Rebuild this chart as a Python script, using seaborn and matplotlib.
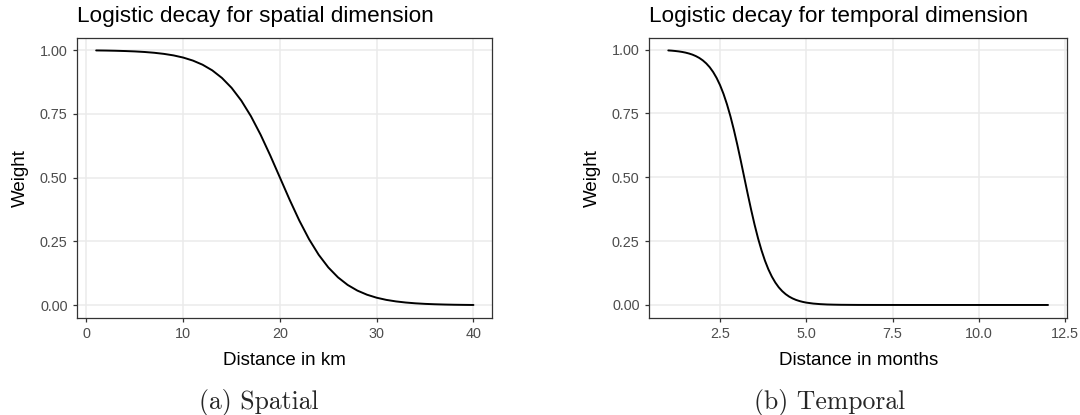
import numpy as np
import pandas as pd
import matplotlib
matplotlib.use("Agg")
import matplotlib.pyplot as plt
import seaborn as sns

# ---- data ----
spatial_km = [1, 2, 3, 4, 5, 6, 7, 8, 9, 10, 11, 12, 13, 14, 15, 16, 17, 18, 19, 20,
              21, 22, 23, 24, 25, 26, 27, 28, 29, 30, 31, 32, 33, 34, 35, 36, 37, 38, 39, 40]
spatial_weight = [0.9987, 0.9982, 0.9974, 0.9963, 0.9948, 0.9926, 0.9895, 0.9852, 0.9792, 0.9707,
                  0.9589, 0.9427, 0.9206, 0.8909, 0.8520, 0.8022, 0.7408, 0.6682, 0.5866, 0.5000,
                  0.4134, 0.3318, 0.2592, 0.1978, 0.1480, 0.1091, 0.0794, 0.0573, 0.0411, 0.0293,
                  0.0208, 0.0148, 0.0105, 0.0074, 0.0052, 0.0037, 0.0026, 0.0018, 0.0013, 0.0009]

temporal_months = [1.0, 1.1, 1.2, 1.3, 1.4, 1.5, 1.6, 1.7, 1.8, 1.9,
                   2.0, 2.1, 2.2, 2.3, 2.4, 2.5, 2.6, 2.7, 2.8, 2.9,
                   3.0, 3.1, 3.2, 3.3, 3.4, 3.5, 3.6, 3.7, 3.8, 3.9,
                   4.0, 4.1, 4.2, 4.3, 4.4, 4.5, 4.6, 4.7, 4.8, 4.9,
                   5.0, 5.2, 5.4, 5.6, 5.8, 6.0, 6.5, 7.0, 8.0, 9.0, 10.0, 11.0, 12.0]
temporal_weight = [0.9967, 0.9958, 0.9945, 0.9929, 0.9908, 0.9881, 0.9846, 0.9802, 0.9744, 0.9671,
                   0.9577, 0.9458, 0.9309, 0.9121, 0.8889, 0.8606, 0.8264, 0.7858, 0.7389, 0.6857,
                   0.6271, 0.5647, 0.5000, 0.4353, 0.3729, 0.3143, 0.2611, 0.2142, 0.1736, 0.1394,
                   0.1111, 0.0879, 0.0691, 0.0542, 0.0423, 0.0329, 0.0256, 0.0198, 0.0154, 0.0119,
                   0.0092, 0.0055, 0.0033, 0.0019, 0.0012, 0.0007, 0.0002, 0.0001, 0.0000, 0.0000,
                   0.0000, 0.0000, 0.0000]

spatial_xticks = [0, 10, 20, 30, 40]
temporal_xticks = [2.5, 5.0, 7.5, 10.0, 12.5]
temporal_xticklabels = ["2.5", "5.0", "7.5", "10.0", "12.5"]
yticks = [0.0, 0.25, 0.5, 0.75, 1.0]
yticklabels = ["0.00", "0.25", "0.50", "0.75", "1.00"]

titles = ["Logistic decay for spatial dimension", "Logistic decay for temporal dimension"]
xlabels = ["Distance in km", "Distance in months"]
ylabel = "Weight"
captions = ["(a) Spatial", "(b) Temporal"]

# ---- style ----
sns.set_theme(style="white")
plt.rcParams["font.family"] = ["Liberation Sans", "DejaVu Sans"]

GRID = "#EBEBEB"
BORDER = "#333333"
TICKTXT = "#4D4D4D"

fig = plt.figure(figsize=(10.8, 4.15), dpi=100)
W, H = 1080, 415


def axes_px(x0, y0, x1, y1):
    return fig.add_axes([x0 / W, 1 - y1 / H, (x1 - x0) / W, (y1 - y0) / H])


ax1 = axes_px(77.3, 37.7, 492.3, 317.7)
ax2 = axes_px(649.3, 37.7, 1067.0, 317.7)

df1 = pd.DataFrame({"x": spatial_km, "y": spatial_weight})
df2 = pd.DataFrame({"x": temporal_months, "y": temporal_weight})


def expand(vals, mult=0.05):
    lo, hi = min(vals), max(vals)
    r = hi - lo
    return lo - mult * r, hi + mult * r


for ax, df, xt, xtl, title, xl in [
    (ax1, df1, spatial_xticks, [str(v) for v in spatial_xticks], titles[0], xlabels[0]),
    (ax2, df2, temporal_xticks, temporal_xticklabels, titles[1], xlabels[1]),
]:
    sns.lineplot(data=df, x="x", y="y", ax=ax, color="black", linewidth=1.4)
    ax.set_xlim(*expand(df["x"]))
    ax.set_ylim(*expand(df["y"]))
    ax.set_xticks(xt)
    ax.set_xticklabels(xtl)
    ax.set_yticks(yticks)
    ax.set_yticklabels(yticklabels)
    ax.grid(True, color=GRID, linewidth=1.1)
    ax.set_axisbelow(True)
    for s in ax.spines.values():
        s.set_visible(True)
        s.set_color(BORDER)
        s.set_linewidth(0.9)
    ax.tick_params(axis="both", which="major", direction="out", length=3.0, width=0.9,
                   color=BORDER, labelcolor=TICKTXT, labelsize=10.4, pad=4.0,
                   bottom=True, left=True)
    ax.set_title(title, loc="left", fontsize=16.2, color="black", pad=11.0)
    ax.set_xlabel(xl, fontsize=13.5, color="black", labelpad=7.5)
    ax.set_ylabel(ylabel, fontsize=13.5, color="black", labelpad=8.0)

fig.text(258.7 / W, 1 - 408.5 / H, captions[0], ha="center", va="baseline",
         fontsize=18.5, family=["cmr10", "DejaVu Serif"])
fig.text(829.8 / W, 1 - 408.5 / H, captions[1], ha="center", va="baseline",
         fontsize=18.5, family=["cmr10", "DejaVu Serif"])

fig.savefig("out.png", dpi=100)
